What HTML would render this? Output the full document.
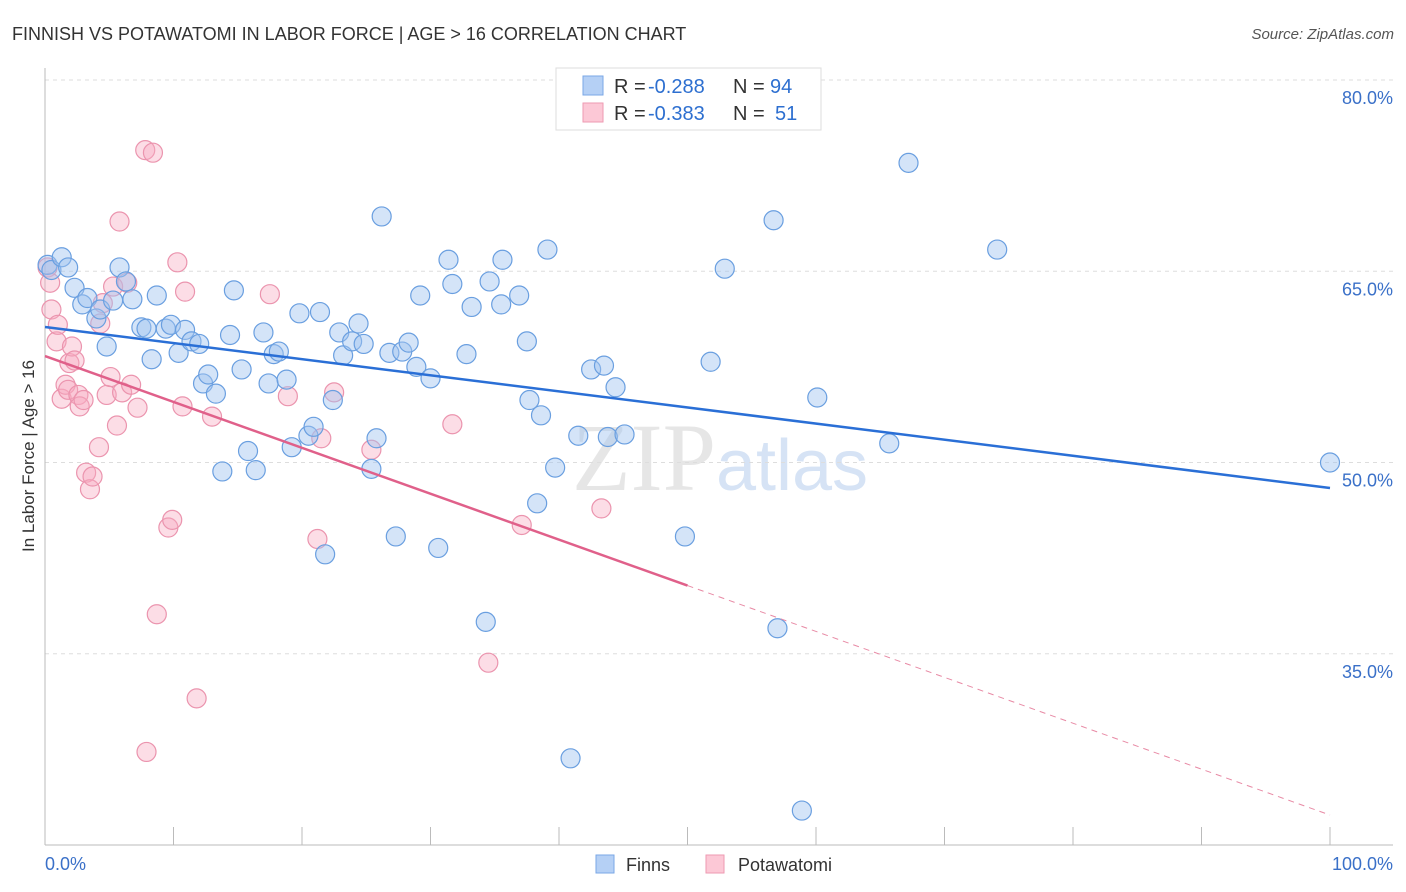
<!DOCTYPE html>
<html><head><meta charset="utf-8"><style>
body{margin:0;background:#fff;font-family:"Liberation Sans",sans-serif;}
svg{display:block}
</style></head><body>
<svg id="chart" width="1406" height="892" viewBox="0 0 1406 892" xmlns="http://www.w3.org/2000/svg">
<text x="12" y="40" font-size="18" fill="#333">FINNISH VS POTAWATOMI IN LABOR FORCE | AGE &gt; 16 CORRELATION CHART</text>
<text x="1394" y="39" font-size="15" fill="#555" text-anchor="end" font-style="italic">Source: ZipAtlas.com</text>
<text x="720" y="490" font-size="96" text-anchor="middle" fill="#e6e6e6" font-family="Liberation Serif">ZIP<tspan fill="#d6e3f5" font-family="Liberation Sans" font-size="72">atlas</tspan></text>
<g id="grid"></g>
<g id="axes"></g>
<g id="marks"></g>
<text transform="translate(34,456) rotate(-90)" font-size="17" fill="#333" text-anchor="middle">In Labor Force | Age &gt; 16</text>
<g>
<rect x="556" y="68" width="265" height="62" fill="#fff" stroke="#ddd"/>
<rect x="583" y="76" width="20" height="19" fill="#b5d0f5" stroke="#7aa7e6"/>
<text x="614" y="93" font-size="20" fill="#333">R =</text>
<text x="648" y="93" font-size="20" fill="#2d6fd0">-0.288</text>
<text x="733" y="93" font-size="20" fill="#333">N =</text>
<text x="770" y="93" font-size="20" fill="#2d6fd0">94</text>
<rect x="583" y="103" width="20" height="19" fill="#fcc8d6" stroke="#ee9ab2"/>
<text x="614" y="120" font-size="20" fill="#333">R =</text>
<text x="648" y="120" font-size="20" fill="#2d6fd0">-0.383</text>
<text x="733" y="120" font-size="20" fill="#333">N =</text>
<text x="775" y="120" font-size="20" fill="#2d6fd0">51</text>
</g>
<g>
<rect x="596" y="855" width="18" height="18" fill="#b5d0f5" stroke="#7aa7e6"/>
<text x="626" y="871" font-size="18" fill="#333">Finns</text>
<rect x="706" y="855" width="18" height="18" fill="#fcc8d6" stroke="#ee9ab2"/>
<text x="738" y="871" font-size="18" fill="#333">Potawatomi</text>
</g>
</svg>
<script>
const yTicks=[80,65,50,35];
const yTickLabels=["80.0%","65.0%","50.0%","35.0%"];
const finnsX=[0.2,0.5,1.3,1.8,2.3,2.9,3.3,4,4.3,4.8,5.3,5.8,6.3,6.8,7.5,7.9,8.3,8.7,9.4,9.8,10.4,10.9,11.4,12,12.3,12.7,13.3,13.8,14.4,14.7,15.3,15.8,16.4,17,17.4,17.8,18.2,18.8,19.2,19.8,20.5,20.9,21.4,21.8,22.4,22.9,23.2,23.9,24.4,24.8,25.4,25.8,26.2,26.8,27.3,27.8,28.3,28.9,29.2,30,30.6,31.4,31.7,32.8,33.2,34.3,34.6,35.5,35.6,36.9,37.5,37.7,38.6,39.1,39.7,38.3,40.9,41.5,42.5,43.5,43.8,44.4,45.1,49.8,51.8,52.9,56.7,57,58.9,60.1,65.7,67.2,74.1,100];
const finnsY=[65.5,65.1,66.1,65.3,63.7,62.4,62.9,61.3,62.0,59.1,62.7,65.3,64.2,62.8,60.6,60.5,58.1,63.1,60.5,60.8,58.6,60.4,59.5,59.3,56.2,56.9,55.4,49.3,60.0,63.5,57.3,50.9,49.4,60.2,56.2,58.5,58.7,56.5,51.2,61.7,52.1,52.8,61.8,42.8,54.9,60.2,58.4,59.5,60.9,59.3,49.5,51.9,69.3,58.6,44.2,58.7,59.4,57.5,63.1,56.6,43.3,65.9,64.0,58.5,62.2,37.5,64.2,62.4,65.9,63.1,59.5,54.9,53.7,66.7,49.6,46.8,26.8,52.1,57.3,57.6,52.0,55.9,52.2,44.2,57.9,65.2,69.0,37.0,22.7,55.1,51.5,73.5,66.7,50.0];
const potX=[0.2,0.4,0.5,0.9,1,1.3,1.6,1.8,1.9,2.1,2.3,2.6,2.7,3,3.2,3.5,3.7,4.2,4.3,4.5,4.8,5.1,5.3,5.6,5.8,6,6.4,6.7,7.2,7.8,7.9,8.4,8.7,9.6,9.9,10.3,10.7,10.9,11.8,13,17.5,18.9,21.2,21.5,22.5,25.4,31.7,34.5,37.1,43.3];
const potY=[65.3,64.1,62.0,59.5,60.8,55.0,56.1,55.7,57.8,59.1,58.0,55.3,54.4,54.9,49.2,47.9,48.9,51.2,60.9,62.5,55.3,56.7,63.8,52.9,68.9,55.5,64.1,56.1,54.3,74.5,27.3,74.3,38.1,44.9,45.5,65.7,54.4,63.4,31.5,53.6,63.2,55.2,44.0,51.9,55.5,51.0,53.0,34.3,45.1,46.4];
const finnsTrend=[60.63,48.0];
const potTrend=[58.35,22.35];
const X0=45,X1=1330,PX15=191.25;
const xs=v=>X0+(X1-X0)*v/100;
const ys=v=>80+(80-v)*PX15/15;
const NS="http://www.w3.org/2000/svg";
function mk(tag,attrs,parent){const e=document.createElementNS(NS,tag);for(const k in attrs)e.setAttribute(k,attrs[k]);parent.appendChild(e);return e;}
const grid=document.getElementById('grid'),axes=document.getElementById('axes'),marks=document.getElementById('marks');
yTicks.forEach((t,i)=>{
 const l=mk('line',{x1:45,x2:1393,y1:ys(t),y2:ys(t),stroke:'#ddd','stroke-dasharray':'4,4'},grid);
 
 
 const tx=mk('text',{x:1393,y:ys(t)+24,'font-size':18,fill:'#3a70c8','text-anchor':'end'},grid);
 tx.textContent=yTickLabels[i];
 
 
});
const ya=mk('line',{x1:45,x2:45,y1:68,y2:845,stroke:'#bbb'},axes);


const xa=mk('line',{x1:45,x2:1393,y1:845,y2:845,stroke:'#bbb'},axes);


for(let i=0;i<=10;i++){const t=mk('line',{x1:xs(i*10),x2:xs(i*10),y1:827,y2:845,stroke:'#bbb'},axes);
 
 }
const xl0=mk('text',{x:45,y:870,'font-size':18,fill:'#3a70c8'},axes);xl0.textContent='0.0%';


const xl1=mk('text',{x:1393,y:870,'font-size':18,fill:'#3a70c8','text-anchor':'end'},axes);xl1.textContent='100.0%';


potX.forEach((v,i)=>{const c=mk('circle',{cx:xs(v),cy:ys(potY[i]),r:9.5,fill:'rgba(248,170,192,0.4)',stroke:'#eb94ae','stroke-width':1.2},marks);
 
 });
finnsX.forEach((v,i)=>{const c=mk('circle',{cx:xs(v),cy:ys(finnsY[i]),r:9.5,fill:'rgba(160,195,240,0.45)',stroke:'#6a9fe0','stroke-width':1.2},marks);
 
 });
const fl=mk('line',{x1:xs(0),y1:ys(finnsTrend[0]),x2:xs(100),y2:ys(finnsTrend[1]),stroke:'#2a6fd6','stroke-width':2.5},marks);


const pm=potTrend[0]+(potTrend[1]-potTrend[0])*0.5;
const pl=mk('line',{x1:xs(0),y1:ys(potTrend[0]),x2:xs(50),y2:ys(pm),stroke:'#e0608a','stroke-width':2.5},marks);


const pd=mk('line',{x1:xs(50),y1:ys(pm),x2:xs(100),y2:ys(potTrend[1]),stroke:'#e88aa5','stroke-width':1,'stroke-dasharray':'6,5'},marks);


</script>
</body></html>
